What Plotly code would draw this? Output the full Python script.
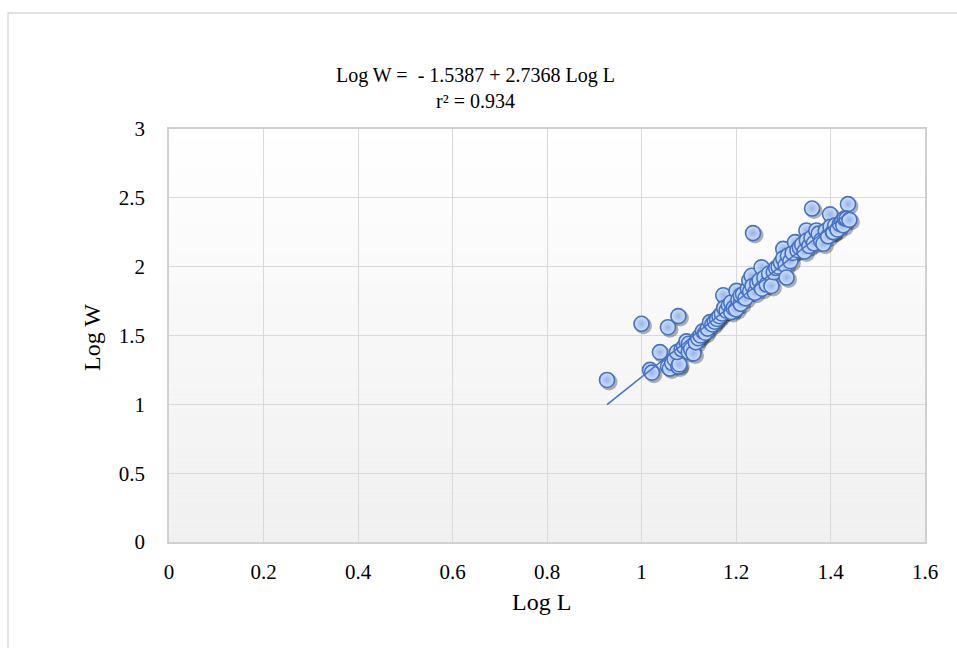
import plotly.graph_objects as go

# ---------------- data ----------------
log_l = [
    0.927, 1.000, 1.056, 1.078, 1.236, 1.361, 1.437, 1.399,
    1.018, 1.022, 1.039, 1.056, 1.060, 1.065, 1.070, 1.078, 1.080, 1.075,
    1.085, 1.090, 1.095, 1.100, 1.100, 1.105, 1.110, 1.115,
    1.120, 1.125, 1.130, 1.135, 1.140, 1.145, 1.150, 1.155, 1.160, 1.165,
    1.170, 1.173, 1.175, 1.180, 1.185, 1.190, 1.190, 1.195, 1.200, 1.201,
    1.205, 1.210, 1.210, 1.215, 1.220, 1.225, 1.228, 1.230, 1.233, 1.235,
    1.240, 1.245, 1.250, 1.254, 1.255, 1.260, 1.265, 1.270, 1.275, 1.280,
    1.285, 1.290, 1.295, 1.300, 1.300, 1.305, 1.307, 1.310, 1.315, 1.320,
    1.325, 1.330, 1.335, 1.340, 1.345, 1.349, 1.350, 1.355, 1.360, 1.365,
    1.370, 1.375, 1.380, 1.385, 1.390, 1.395, 1.400, 1.405, 1.406, 1.410,
    1.415, 1.420, 1.425, 1.427, 1.430, 1.434, 1.440,
]
log_w = [
    1.177, 1.585, 1.560, 1.641, 2.244, 2.422, 2.454, 2.380,
    1.250, 1.230, 1.379, 1.274, 1.260, 1.300, 1.330, 1.274, 1.290, 1.380,
    1.400, 1.420, 1.457, 1.440, 1.380, 1.400, 1.370, 1.450,
    1.480, 1.500, 1.531, 1.520, 1.550, 1.597, 1.580, 1.600, 1.620, 1.640,
    1.660, 1.792, 1.700, 1.680, 1.720, 1.670, 1.740, 1.700, 1.690, 1.824,
    1.760, 1.730, 1.790, 1.800, 1.770, 1.840, 1.900, 1.820, 1.934, 1.860,
    1.810, 1.880, 1.900, 1.995, 1.840, 1.920, 1.870, 1.950, 1.860, 1.960,
    1.990, 2.000, 2.030, 2.129, 2.060, 2.010, 1.921, 2.080, 2.040, 2.100,
    2.178, 2.120, 2.140, 2.160, 2.110, 2.263, 2.190, 2.150, 2.210, 2.170,
    2.263, 2.240, 2.190, 2.166, 2.260, 2.220, 2.290, 2.250, 2.251, 2.300,
    2.270, 2.310, 2.330, 2.300, 2.350, 2.349, 2.340,
]

intercept = -1.5387
slope = 2.7368
r_squared = 0.934

x_ticks = [0, 0.2, 0.4, 0.6, 0.8, 1.0, 1.2, 1.4, 1.6]
x_tick_labels = ["0", "0.2", "0.4", "0.6", "0.8", "1", "1.2", "1.4", "1.6"]
y_ticks = [0, 0.5, 1.0, 1.5, 2.0, 2.5, 3.0]
y_tick_labels = ["0", "0.5", "1", "1.5", "2", "2.5", "3"]

# trend line drawn between the extreme observed lengths
trend_x = [min(log_l), max(log_l)]
trend_y = [intercept + slope * v for v in trend_x]

FONT = "Liberation Serif, Times New Roman, serif"
W, H = 957, 648
L_M, R_M, T_M, B_M = 169, 32, 129, 106
PW = W - L_M - R_M
PH = H - T_M - B_M

fig = go.Figure()

# soft shadow behind markers
sdx = 2.0 / PW * 1.6
sdy = 2.0 / PH * 3.0
fig.add_trace(go.Scatter(
    x=[v + sdx for v in log_l], y=[v - sdy for v in log_w], mode="markers",
    marker=dict(size=17, color="rgba(0,0,0,0.3)", line=dict(width=0)),
    hoverinfo="skip", showlegend=False,
))
fig.add_trace(go.Scatter(
    x=log_l, y=log_w, mode="markers",
    marker=dict(size=15, color="#d4e1fa",
                gradient=dict(type="radial", color="#94b3ee"),
                line=dict(color="#4472c4", width=1.6)),
    showlegend=False,
))
fig.add_trace(go.Scatter(
    x=trend_x, y=trend_y, mode="lines",
    line=dict(color="#4472c4", width=1.5), showlegend=False,
))

# plot-area vertical gradient
shapes = []
n = 40
for i in range(n):
    t = (i + 0.5) / n
    c = int(round(240 + 15 * t))
    shapes.append(dict(type="rect", xref="x domain", yref="y domain",
                       x0=0, x1=1, y0=i / n, y1=(i + 1) / n,
                       fillcolor=f"rgb({c},{c},{c})", line=dict(width=0),
                       layer="below"))
# outer chart border
shapes.append(dict(type="rect", xref="paper", yref="paper",
                   x0=(8 - L_M) / PW, x1=(W + 10 - L_M) / PW,
                   y0=(H - B_M - (H + 10)) / PH, y1=(H - B_M - 13) / PH,
                   line=dict(color="#d9d9d9", width=1.3),
                   fillcolor="rgba(0,0,0,0)", layer="below"))

annotations = [
    dict(text="Log W =  - 1.5387 + 2.7368 Log L<br>r² = " + str(r_squared),
         xref="paper", yref="paper",
         x=(475 - L_M) / PW, y=(H - B_M - 88) / PH, showarrow=False,
         xanchor="center", yanchor="middle", align="center",
         font=dict(family=FONT, size=20, color="#000")),
    dict(text="Log L", xref="paper", yref="paper",
         x=(541 - L_M) / PW, y=(H - B_M - 602) / PH, showarrow=False,
         xanchor="center", yanchor="middle", font=dict(family=FONT, size=24, color="#000")),
    dict(text="Log W", xref="paper", yref="paper", textangle=-90,
         x=(92 - L_M) / PW, y=(H - B_M - 338) / PH, showarrow=False,
         xanchor="center", yanchor="middle", font=dict(family=FONT, size=24, color="#000")),
]

axis_common = dict(showgrid=True, gridcolor="#d9d9d9", gridwidth=1.3,
                   showline=True, linecolor="#d0d0d0", linewidth=1.6, mirror=True,
                   zeroline=False, ticks="", tickfont=dict(family=FONT, size=21, color="#000"))

fig.update_layout(
    width=W, height=H,
    margin=dict(l=L_M, r=R_M, t=T_M, b=B_M),
    paper_bgcolor="white", plot_bgcolor="white",
    xaxis=dict(range=[0, 1.6], tickvals=x_ticks, ticktext=x_tick_labels,
               ticklabelstandoff=10, **axis_common),
    yaxis=dict(range=[0, 3], tickvals=y_ticks, ticktext=y_tick_labels,
               ticklabelstandoff=18, **axis_common),
    shapes=shapes, annotations=annotations,
)

fig.write_html(
    "out.html",
    config={"displayModeBar": False},
    post_script="document.body.style.margin='0px';document.body.style.overflow='hidden';",
)
